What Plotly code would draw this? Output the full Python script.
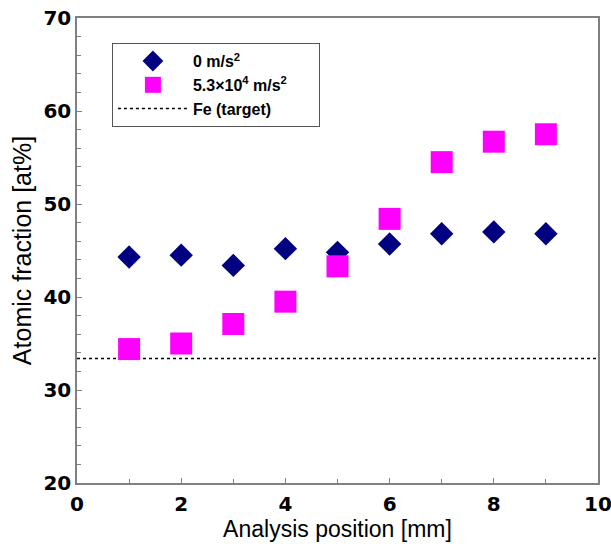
import plotly.graph_objects as go

positions = [1, 2, 3, 4, 5, 6, 7, 8, 9]
frac_0 = [44.3, 44.5, 43.4, 45.2, 44.8, 45.7, 46.8, 47.0, 46.8]
frac_53e4 = [34.4, 35.0, 37.1, 39.5, 43.3, 48.4, 54.5, 56.7, 57.5]
fe_target = 33.4
target_x = [0, 10]

NB = "\u00a0"

fig = go.Figure()
fig.add_trace(go.Scatter(
    x=target_x, y=[fe_target, fe_target], mode="lines", name="Fe (target)",
    legendrank=3,
    line=dict(color="black", width=1.5, dash="3px,3px")))
fig.add_trace(go.Scatter(
    x=positions, y=frac_0, mode="markers", name="0 m/s<sup>2</sup>",
    legendrank=1,
    marker=dict(symbol="diamond", size=18, color="#000080", line=dict(width=0))))
fig.add_trace(go.Scatter(
    x=positions, y=frac_53e4, mode="markers",
    name="5.3×10<sup>4</sup> m/s<sup>2</sup>" + NB * 6,
    legendrank=2,
    marker=dict(symbol="square", size=22, color="#FF00FF", line=dict(width=0))))

axis_common = dict(
    showline=True, linecolor="#808080", linewidth=1.5, mirror=True,
    ticks="inside", ticklen=5, tickcolor="#808080", showgrid=False, zeroline=False,
    automargin=False, ticklabeloverflow="allow",
    tickfont=dict(family="DejaVu Sans", size=20, color="black", weight="bold"),
)
fig.update_layout(
    width=611, height=544,
    margin=dict(l=77, r=13, t=18, b=61),
    paper_bgcolor="white", plot_bgcolor="white",
    font=dict(family="Arial, Liberation Sans", color="black"),
    xaxis=dict(range=[0, 10], dtick=2, tick0=0, ticklabelstandoff=2,
               title=dict(text="Analysis position [mm]", font=dict(size=23), standoff=1),
               minor=dict(dtick=1, ticks="inside", ticklen=4, tickcolor="#808080"),
               **axis_common),
    yaxis=dict(range=[20, 70], dtick=10, tick0=20,
               title=dict(text="Atomic fraction [at%]", font=dict(size=25), standoff=5),
               minor=dict(dtick=2, ticks="inside", ticklen=4, tickcolor="#808080"),
               **axis_common),
    legend=dict(x=0.067, y=0.946, xanchor="left", yanchor="top",
                bordercolor="#555555", borderwidth=1, bgcolor="white",
                font=dict(size=16, weight="bold"), traceorder="normal",
                itemwidth=70),
    showlegend=True,
)

fig.write_html("out.html", config={"displayModeBar": False},
               post_script="document.body.style.margin='0';")
